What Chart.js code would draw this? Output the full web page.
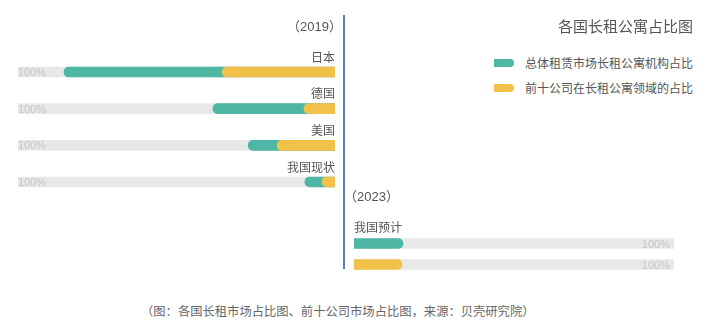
<!DOCTYPE html>
<html>
<head>
<meta charset="utf-8">
<script src="https://cdn.jsdelivr.net/npm/chart.js@4.4.0/dist/chart.umd.min.js"></script>
<style>
  body { margin: 0; background: #fff; font-family: "Noto Sans CJK SC", sans-serif; color: #555; }
  #wrap { position: relative; width: 710px; height: 327px; overflow: hidden; }
  canvas { position: absolute; }
  .txt { position: absolute; white-space: nowrap; line-height: 1; }
  .year { font-family: "Liberation Sans", "Noto Sans CJK SC", sans-serif; font-size: 13px; }
  .mark { position: absolute; width: 20px; height: 8px; border-radius: 0 4px 4px 0; }
  #divider { position: absolute; left: 343px; top: 15px; width: 2px; height: 254px; background: #5a7dbd; }
</style>
</head>
<body>
<div id="wrap">
  <canvas id="leftChart" width="345" height="210" style="left:0;top:0"></canvas>
  <canvas id="rightChart" width="345" height="70" style="left:345px;top:210px"></canvas>
  <div id="divider"></div>
  <div class="txt year" style="right:368px;top:20px">（2019）</div>
  <div class="txt year" style="left:344px;top:190px">（2023）</div>
  <div class="txt" style="right:17px;top:18px;font-size:15px">各国长租公寓占比图</div>
  <div class="mark" style="left:494px;top:59px;background:#4db6a4"></div>
  <div class="txt" style="right:17px;top:57px;font-size:12px">总体租赁市场长租公寓机构占比</div>
  <div class="mark" style="left:494px;top:84px;background:#f2c14a"></div>
  <div class="txt" style="right:17px;top:82px;font-size:12px">前十公司在长租公寓领域的占比</div>
  <div class="txt" style="left:141px;top:305px;font-size:12.3px;color:#666">（图：各国长租市场占比图、前十公司市场占比图，来源：贝壳研究院）</div>
</div>
<script>
// 2019 data (percent)
const leftCategories = ['日本', '德国', '美国', '我国现状'];
const leftTotalShare = [85.5, 38.5, 27.4, 9.5];
const leftTop10Share = [35.6, 9.8, 18.3, 4.1];

// 2023 forecast (percent)
const rightLabel = '我国预计';
const rightTotalShare = [15.3, null];
const rightTop10Share = [null, 15.0];

const fullScale = 100;
const fullLabel = '100%';

const GREEN = '#4db6a4';
const YELLOW = '#f2c14a';
const GRAY = '#e8e8e8';

function barSet(label, data, color, radius) {
    return {
        label: label,
        data: data,
        backgroundColor: color,
        borderRadius: radius,
        borderSkipped: 'start',
        barThickness: 10,
        grouped: false
    };
}

// Draws category names and the 100% labels
const leftLabels = {
    id: 'leftLabels',
    afterDatasetsDraw(chart) {
        const ctx = chart.ctx;
        const xs = chart.scales.x;
        const ys = chart.scales.y;
        ctx.save();
        ctx.textBaseline = 'middle';
        leftCategories.forEach((name, i) => {
            const y = ys.getPixelForValue(i);
            ctx.font = '12px "Noto Sans CJK SC"';
            ctx.fillStyle = '#555';
            ctx.textAlign = 'right';
            ctx.fillText(name, xs.getPixelForValue(0), y - 15);
            ctx.font = '11px "Liberation Sans"';
            ctx.fillStyle = '#c6c6c6';
            ctx.textAlign = 'left';
            ctx.fillText(fullLabel, xs.getPixelForValue(fullScale), y + 1);
        });
        ctx.restore();
    }
};

const rightLabels = {
    id: 'rightLabels',
    afterDatasetsDraw(chart) {
        const ctx = chart.ctx;
        const xs = chart.scales.x;
        const ys = chart.scales.y;
        ctx.save();
        ctx.textBaseline = 'middle';
        ctx.font = '12px "Noto Sans CJK SC"';
        ctx.fillStyle = '#555';
        ctx.textAlign = 'left';
        ctx.fillText(rightLabel, xs.getPixelForValue(0), ys.getPixelForValue(0) - 16.5);
        ctx.font = '11px "Liberation Sans"';
        ctx.fillStyle = '#c6c6c6';
        ctx.textAlign = 'right';
        [0, 1].forEach(i => {
            ctx.fillText(fullLabel, xs.getPixelForValue(fullScale) - 4, ys.getPixelForValue(i) + 1);
        });
        ctx.restore();
    }
};

function baseOptions(reverse, padding) {
    return {
        indexAxis: 'y',
        responsive: false,
        animation: false,
        layout: { padding: padding },
        plugins: { legend: { display: false }, tooltip: { enabled: false } },
        scales: {
            x: { min: 0, max: fullScale, reverse: reverse, display: false },
            y: { display: false }
        }
    };
}

new Chart(document.getElementById('leftChart').getContext('2d'), {
    type: 'bar',
    data: {
        labels: leftCategories,
        datasets: [
            barSet('前十公司在长租公寓领域的占比', leftTop10Share, YELLOW, 5),
            barSet('总体租赁市场长租公寓机构占比', leftTotalShare, GREEN, 5),
            barSet('background', leftCategories.map(() => fullScale), GRAY, 0)
        ]
    },
    options: baseOptions(true, { left: 18, right: 10, top: 53.7, bottom: 9.7 }),
    plugins: [leftLabels]
});

new Chart(document.getElementById('rightChart').getContext('2d'), {
    type: 'bar',
    data: {
        labels: ['total', 'top10'],
        datasets: [
            barSet('前十公司在长租公寓领域的占比', rightTop10Share, YELLOW, 5),
            barSet('总体租赁市场长租公寓机构占比', rightTotalShare, GREEN, 5),
            barSet('background', [fullScale, fullScale], GRAY, 0)
        ]
    },
    options: baseOptions(false, { left: 9, right: 16, top: 23, bottom: 5 }),
    plugins: [rightLabels]
});
</script>
</body>
</html>
